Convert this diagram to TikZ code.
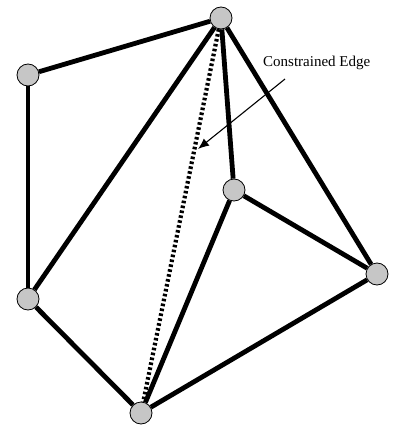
\documentclass[tikz,border=0pt]{standalone}
\usepackage{fontspec}
\setmainfont{Liberation Serif}
\usetikzlibrary{arrows.meta}

\begin{document}
\begin{tikzpicture}[
    x=1pt, y=-1pt,
    vtx/.style={circle, draw, fill=gray!45, inner sep=0pt, minimum size=22pt, line width=0.8pt},
    edge/.style={line width=4.8pt},
    cons/.style={line width=4.2pt, dash pattern=on 2.6pt off 2.4pt},
    arr/.style={-{Latex[length=11pt, width=9pt]}, line width=1.1pt}
]
\useasboundingbox (0,0) rectangle (393,428);
\node[vtx] (top) at (221,18) {};
\node[vtx] (ul) at (28,75) {};
\node[vtx] (mid) at (234,190) {};
\node[vtx] (ll) at (28,299) {};
\node[vtx] (rt) at (377,274) {};
\node[vtx] (bot) at (141,413) {};
\node[anchor=west, inner sep=0pt, font=\fontsize{15}{17}\selectfont] (lbl) at (263,63) {Constrained Edge};
\coordinate (tip) at (198,149);
\draw[edge] (top) -- (ul);
\draw[edge] (ul) -- (ll);
\draw[edge] (ll) -- (top);
\draw[edge] (top) -- (mid);
\draw[edge] (top) -- (rt);
\draw[edge] (mid) -- (rt);
\draw[edge] (mid) -- (bot);
\draw[edge] (ll) -- (bot);
\draw[edge] (bot) -- (rt);
\draw[cons] (top) -- (bot);
\draw[arr] ([xshift=22pt, yshift=-9pt]lbl.south west) -- (tip);
\end{tikzpicture}
\end{document}
